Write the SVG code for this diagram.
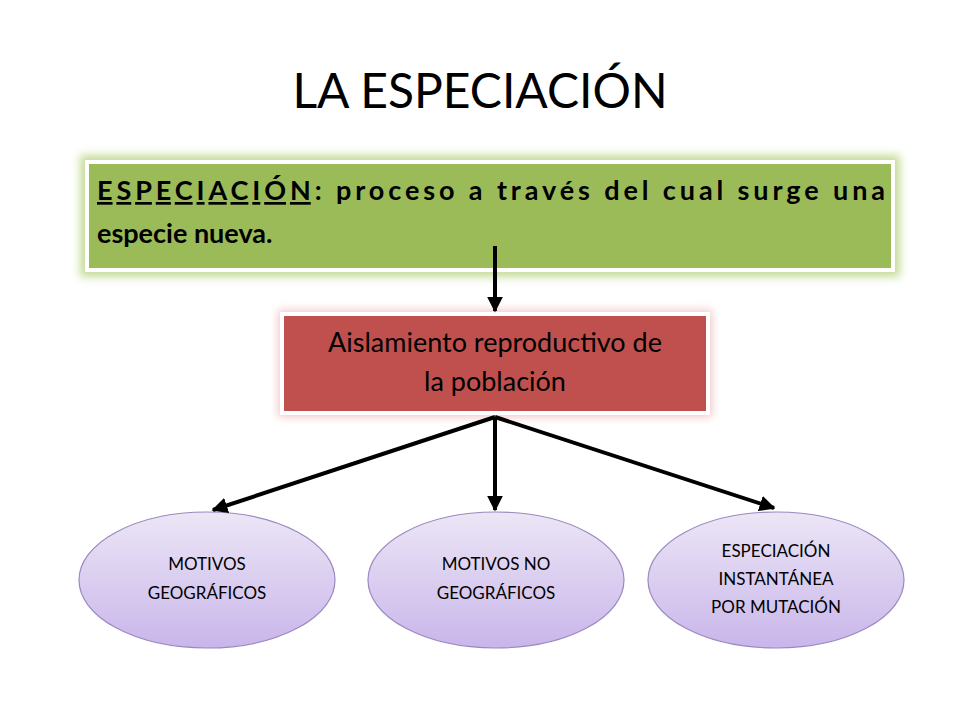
<svg xmlns="http://www.w3.org/2000/svg" width="960" height="720" viewBox="0 0 960 720">
<defs>
<style>
.t{font-family:Lato,"Open Sans","Liberation Sans",sans-serif;fill:#000}
.ell{fill:url(#pg);stroke:#9a88c0;stroke-width:1.2}
.con{stroke:#000;stroke-width:4;fill:none;marker-end:url(#ah)}
</style>
<linearGradient id="pg" x1="0" y1="0" x2="0" y2="1"><stop offset="0" stop-color="#ece6f6"/><stop offset="1" stop-color="#c9b6ea"/></linearGradient>
<marker id="ah" viewBox="0 0 10 10" refX="9" refY="5" markerWidth="4" markerHeight="4" orient="auto"><path d="M0,0 L10,5 L0,10 z" fill="#000"/></marker>
<filter id="glowg" x="-5%" y="-20%" width="110%" height="140%"><feGaussianBlur stdDeviation="4"/></filter>
</defs>
<rect width="960" height="720" fill="#fff"/>
<text class="t" x="480" y="108" font-size="48" text-anchor="middle">LA ESPECIACIÓN</text>
<g id="definicion">
<rect x="80" y="155" width="820" height="122" fill="#c6dc9a" filter="url(#glowg)"/>
<rect x="85" y="160" width="810" height="112" fill="#fff"/>
<rect x="89" y="164" width="802" height="104" fill="#9bbb59"/>
<text class="t" x="97" y="200" font-size="27" font-weight="bold" textLength="788" lengthAdjust="spacing"><tspan text-decoration="underline">ESPECIACIÓN</tspan>: proceso a través del cual surge una</text>
<text class="t" x="97" y="243" font-size="27" font-weight="bold">especie nueva.</text>
</g>
<g id="aislamiento">
<rect x="278" y="310" width="434" height="107" fill="#f0c8c8" filter="url(#glowg)"/>
<rect x="280" y="312" width="430" height="103" fill="#fff"/>
<rect x="284" y="316" width="422" height="95" fill="#c0504d"/>
<text class="t" x="495" y="352" font-size="27" text-anchor="middle">Aislamiento reproductivo de</text>
<text class="t" x="495" y="391" font-size="27" text-anchor="middle">la población</text>
</g>
<g id="geograficos">
<ellipse class="ell" cx="207" cy="580" rx="128" ry="68"/>
<text class="t" x="207" y="570" font-size="17" text-anchor="middle">MOTIVOS</text>
<text class="t" x="207" y="599" font-size="17" text-anchor="middle">GEOGRÁFICOS</text>
</g>
<g id="nogeograficos">
<ellipse class="ell" cx="496" cy="580" rx="128" ry="68"/>
<text class="t" x="496" y="570" font-size="17" text-anchor="middle">MOTIVOS  NO</text>
<text class="t" x="496" y="599" font-size="17" text-anchor="middle">GEOGRÁFICOS</text>
</g>
<g id="mutacion">
<ellipse class="ell" cx="776" cy="580" rx="128" ry="68"/>
<text class="t" x="776" y="557" font-size="17" text-anchor="middle">ESPECIACIÓN</text>
<text class="t" x="776" y="585" font-size="17" text-anchor="middle">INSTANTÁNEA</text>
<text class="t" x="776" y="613" font-size="17" text-anchor="middle">POR MUTACIÓN</text>
</g>
<g id="connectors">
<line class="con" x1="495" y1="246" x2="495" y2="311"/>
<line class="con" x1="495" y1="417" x2="213" y2="510"/>
<line class="con" x1="495" y1="417" x2="495" y2="510"/>
<line class="con" x1="495" y1="417" x2="774" y2="508"/>
</g>
</svg>
